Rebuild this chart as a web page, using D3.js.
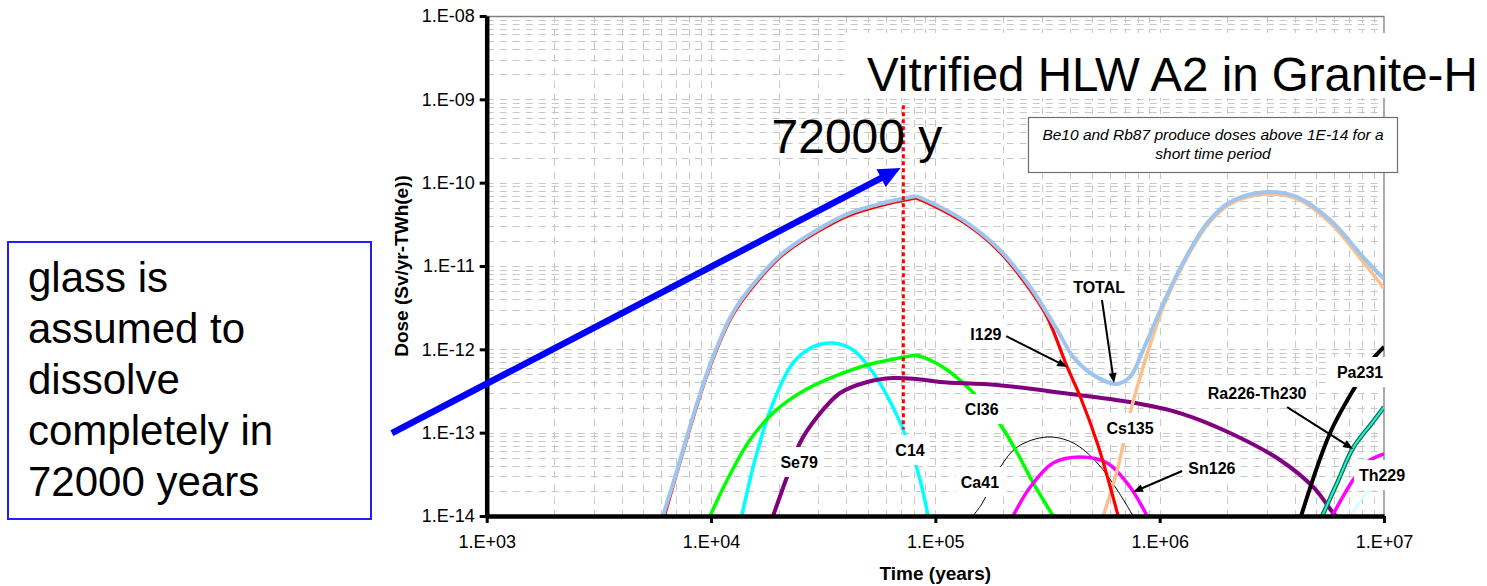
<!DOCTYPE html>
<html>
<head>
<meta charset="utf-8">
<script src="https://cdn.jsdelivr.net/npm/d3@7"></script>
<style>
  html, body { margin: 0; padding: 0; background: #fff; }
  svg { display: block; font-family: "Liberation Sans", Arial, Helvetica, sans-serif; }
</style>
</head>
<body>
<svg id="chart" width="1487" height="586"></svg>
<script>
// ---- axes ----
const timeTicks = [1e3, 1e4, 1e5, 1e6, 1e7];
const timeTickLabels = ["1.E+03", "1.E+04", "1.E+05", "1.E+06", "1.E+07"];
const doseTicks = [1e-14, 1e-13, 1e-12, 1e-11, 1e-10, 1e-9, 1e-8];
const doseTickLabels = ["1.E-14", "1.E-13", "1.E-12", "1.E-11", "1.E-10", "1.E-09", "1.E-08"];

// ---- dose curves: [time (years), dose (Sv/yr-TWh(e))] ----
const totalDose = [[6110,1e-14],[7060,3.56e-14],[8670,2.27e-13],[10200,8.09e-13],[12500,2.73e-12],[16000,6.79e-12],[20900,1.43e-11],[29700,2.70e-11],[41700,4.33e-11],[58500,5.70e-11],[82000,6.92e-11],[94700,5.86e-11],[133000,3.56e-11],[188000,1.69e-11],[265000,5.60e-12],[349000,1.71e-12],[412000,8.09e-13],[490000,5.20e-13],[602000,3.94e-13],[647000,3.84e-13],[738000,4.66e-13],[844000,9.82e-13],[1.04e6,3.60e-12],[1.27e6,1.09e-11],[1.63e6,3.28e-11],[2.06e6,5.86e-11],[3.01e6,7.73e-11],[4.10e6,6.73e-11],[5.76e6,3.56e-11],[8.07e6,1.28e-11],[1e7,7.0e-12]];
const i129Dose = [[6200,1e-14],[7060,3.37e-14],[8670,2.15e-13],[10200,7.66e-13],[12500,2.58e-12],[16000,6.43e-12],[20900,1.36e-11],[29700,2.56e-11],[41700,4.09e-11],[58500,5.40e-11],[82000,6.55e-11],[94700,5.55e-11],[133000,3.37e-11],[188000,1.60e-11],[265000,5.15e-12],[315000,2.44e-12],[387000,6.14e-13],[443000,2.68e-13],[527000,7.52e-14],[602000,2.23e-14],[653000,1e-14]];
const cs135Dose = [[560000,1e-14],[647000,3.56e-14],[738000,1.72e-13],[818000,4.66e-13],[906000,1.13e-12],[1.04e6,3.31e-12],[1.27e6,1.03e-11],[1.63e6,3.10e-11],[2.06e6,5.55e-11],[3.01e6,7.31e-11],[4.10e6,6.37e-11],[5.76e6,3.28e-11],[8.07e6,1.12e-11],[1e7,5.4e-12]];
const cl36Dose = [[9900,1e-14],[11800,2.70e-14],[14900,8.17e-14],[18900,1.72e-13],[24900,2.99e-13],[35000,4.66e-13],[49700,6.49e-13],[82000,8.55e-13],[94700,7.45e-13],[113000,5.65e-13],[148000,2.99e-13],[195000,1.24e-13],[232000,5.70e-14],[273000,2.49e-14],[335000,1e-14]];
const c14Dose = [[13700,1e-14],[16000,5.70e-14],[18900,2.27e-13],[23200,6.86e-13],[28500,1.07e-12],[35000,1.19e-12],[43000,9.82e-13],[52900,5.20e-13],[64700,2.03e-13],[77100,6.73e-14],[85500,2.70e-14],[92900,1e-14]];
const se79Dose = [[18900,1e-14],[21800,2.94e-14],[24900,7.52e-14],[29700,1.54e-13],[37600,2.99e-13],[49700,4.06e-13],[64700,4.53e-13],[82000,4.41e-13],[105000,4.06e-13],[188000,3.73e-13],[372000,2.99e-13],[738000,2.33e-13],[1.23e6,1.72e-13],[2.06e6,9.91e-14],[3.44e6,4.70e-14],[4.83e6,2.23e-14],[5.93e6,1.09e-14],[6.11e6,1e-14]];
const ca41Dose = [[147000,1e-14],[162000,1.43e-14],[195000,3.87e-14],[232000,6.73e-14],[315000,8.87e-14],[412000,7.52e-14],[527000,4.33e-14],[647000,2.05e-14],[761000,1e-14]];
const sn126Dose = [[222000,1e-14],[265000,2.23e-14],[335000,4.33e-14],[443000,5.11e-14],[583000,4.33e-14],[738000,2.23e-14],[879000,1e-14]];
const pa231Dose = [[4.27e6,1e-14],[5.75e6,9.91e-14],[7.43e6,3.53e-13],[8.85e6,7.45e-13],[1e7,1.07e-12]];
const ra226Dose = [[5.30e6,1e-14],[6.18e6,2.49e-14],[7.28e6,6.55e-14],[8.85e6,1.31e-13],[1e7,2.03e-13]];
const th230Dose = [[5.30e6,1e-14],[6.18e6,2.49e-14],[7.28e6,6.55e-14],[8.85e6,1.31e-13],[1e7,2.03e-13]];
const th229Dose = [[5.87e6,1e-14],[7.28e6,2.70e-14],[8.41e6,4.45e-14],[1e7,5.55e-14]];
const u233Dose = [[7.06e6,1e-14],[8.49e6,2.05e-14]];

// curves that break sharply at the end of glass dissolution
const peakYear = 82000;
const cornerSeries = ["TOTAL", "I129", "Cl36"];

// glass lifetime marker
const glassLifetime = 72000;

// drawing order (back to front) with line styles
const series = [
  { name: "Ca41",  values: ca41Dose,  color: "#000000", width: 1 },
  { name: "C14",   values: c14Dose,   color: "#00ffff", width: 3.5 },
  { name: "Cl36",  values: cl36Dose,  color: "#00ff00", width: 3.5 },
  { name: "Sn126", values: sn126Dose, color: "#ff00ff", width: 3.5 },
  { name: "Se79",  values: se79Dose,  color: "#800080", width: 4 },
  { name: "Pa231", values: pa231Dose, color: "#000000", width: 4 },
  { name: "Ra226", values: ra226Dose, color: "#007a3d", width: 4.5 },
  { name: "Th230", values: th230Dose, color: "#33e6e6", width: 2 },
  { name: "Th229", values: th229Dose, color: "#ff00ff", width: 3.5 },
  { name: "U233",  values: u233Dose,  color: "#ccffff", width: 2 },
  { name: "Cs135", values: cs135Dose, color: "#fbc08e", width: 3.5 },
  { name: "I129",  values: i129Dose,  color: "#ff0000", width: 3.2 },
  { name: "TOTAL", values: totalDose, color: "#9ec5ee", width: 4 }
];

// curve labels, placed in data coordinates
const curveLabels = [
  { text: "TOTAL",       t: 537000, dose: 5.6e-12 },
  { text: "I129",        t: 168000, dose: 1.53e-12 },
  { text: "Cl36",        t: 161000, dose: 1.92e-13 },
  { text: "Cs135",       t: 738000, dose: 1.14e-13 },
  { text: "Se79",        t: 24700,  dose: 4.45e-14 },
  { text: "C14",         t: 77100,  dose: 6.19e-14 },
  { text: "Ca41",        t: 158000, dose: 2.56e-14 },
  { text: "Sn126",       t: 1.71e6, dose: 3.77e-14 },
  { text: "Pa231",       t: 7.82e6, dose: 5.35e-13 },
  { text: "Ra226-Th230", t: 2.72e6, dose: 2.99e-13 },
  { text: "Th229",       t: 9.8e6,  dose: 3.10e-14 }
];
// leader arrows: from [t, dose] to [t, dose]
const leaders = [
  [[553000, 3.91e-12], [626000, 3.94e-13]],
  [[207000, 1.44e-12], [387000, 6.14e-13]],
  [[1.26e6, 3.47e-14], [761000, 1.94e-14]],
  [[3.70e6, 2.03e-13], [7.28e6, 6.37e-14]]
];

// ---- layout ----
const W = 1487, H = 586;
const plot = { left: 486.7, right: 1384, top: 16, bottom: 516 };

const x = d3.scaleLog().domain([1e3, 1e7]).range([plot.left, plot.right]);
const y = d3.scaleLog().domain([1e-14, 1e-8]).range([plot.bottom, plot.top]);

const svg = d3.select("#chart");

svg.append("defs").append("clipPath").attr("id", "plotClip")
  .append("rect")
  .attr("x", plot.left).attr("y", plot.top - 2)
  .attr("width", plot.right - plot.left).attr("height", plot.bottom - plot.top + 4);

// dashed minor/major grid
const grid = svg.append("g").attr("stroke", "#c8c8c8").attr("stroke-width", 1)
  .attr("stroke-dasharray", "7,6");
grid.selectAll("line.h")
  .data(y.ticks().filter(v => v > 1.0001e-14 && v < 0.9999e-8))
  .join("line").attr("class", "h")
  .attr("x1", plot.left).attr("x2", plot.right)
  .attr("y1", d => Math.round(y(d)) + 0.5).attr("y2", d => Math.round(y(d)) + 0.5);
grid.selectAll("line.v")
  .data(x.ticks().filter(v => v > 1001 && v < 0.9999e7))
  .join("line").attr("class", "v")
  .attr("y1", plot.top).attr("y2", plot.bottom)
  .attr("x1", d => Math.round(x(d)) + 0.5).attr("x2", d => Math.round(x(d)) + 0.5);

// plot frame (top and right)
svg.append("path")
  .attr("d", `M${plot.left},${plot.top + 0.5}H${plot.right}V${plot.bottom}`)
  .attr("fill", "none").attr("stroke", "#7f7f7f").attr("stroke-width", 1.3);

// ---- curves ----
const line = d3.line().x(d => x(d[0])).y(d => y(d[1])).curve(d3.curveCatmullRom.alpha(0.5));
const curves = svg.append("g").attr("clip-path", "url(#plotClip)");
series.forEach(s => {
  let parts = [s.values];
  if (cornerSeries.includes(s.name)) {
    const k = s.values.findIndex(d => d[0] === peakYear);
    parts = [s.values.slice(0, k + 1), s.values.slice(k)];
  }
  parts.forEach(p => {
    curves.append("path").datum(p)
      .attr("d", line)
      .attr("fill", "none")
      .attr("stroke", s.color)
      .attr("stroke-width", s.width)
      .attr("stroke-linejoin", "round")
      .attr("stroke-linecap", "butt");
  });
});

// glass lifetime marker (red dotted)
svg.append("line")
  .attr("x1", x(glassLifetime)).attr("x2", x(glassLifetime))
  .attr("y1", y(8.5e-10)).attr("y2", y(1.1e-13))
  .attr("stroke", "#ff0000").attr("stroke-width", 3)
  .attr("stroke-dasharray", "4,3");

// ---- axes ----
const yAxis = svg.append("g")
  .attr("transform", `translate(${plot.left},0)`)
  .call(d3.axisLeft(y).tickValues(doseTicks)
    .tickFormat((d, i) => doseTickLabels[i])
    .tickSize(7).tickSizeOuter(0).tickPadding(5));
const xAxis = svg.append("g")
  .attr("transform", `translate(0,${plot.bottom})`)
  .call(d3.axisBottom(x).tickValues(timeTicks)
    .tickFormat((d, i) => timeTickLabels[i])
    .tickSize(7).tickSizeOuter(0).tickPadding(12));
[yAxis, xAxis].forEach(a => {
  a.select(".domain").attr("stroke", "#000").attr("stroke-width", 4.5);
  a.selectAll(".tick line").attr("stroke", "#000").attr("stroke-width", 3);
  a.selectAll(".tick text").attr("font-size", 18).attr("fill", "#000")
    .attr("font-family", '"Liberation Sans", Arial, sans-serif');
});

svg.append("text")
  .attr("x", x(1e5)).attr("y", 580)
  .attr("text-anchor", "middle").attr("font-size", 19).attr("font-weight", "bold")
  .text("Time (years)");
svg.append("text")
  .attr("transform", "translate(408,266) rotate(-90)")
  .attr("text-anchor", "middle").attr("font-size", 19).attr("font-weight", "bold")
  .text("Dose (Sv/yr-TWh(e))");

// ---- arrows ----
function arrow(g, x1, y1, x2, y2, o) {
  const dx = x2 - x1, dy = y2 - y1, len = Math.hypot(dx, dy);
  const ux = dx / len, uy = dy / len;
  const bx = x2 - ux * o.head, by = y2 - uy * o.head;
  g.append("line").attr("x1", x1).attr("y1", y1).attr("x2", bx + ux * 1).attr("y2", by + uy * 1)
    .attr("stroke", o.color).attr("stroke-width", o.width);
  g.append("path")
    .attr("d", `M${x2},${y2}L${bx - uy * o.half},${by + ux * o.half}L${bx + uy * o.half},${by - ux * o.half}Z`)
    .attr("fill", o.color);
}

// ---- curve labels ----
const labels = svg.append("g");
curveLabels.forEach(l => {
  const g = labels.append("g");
  const t = g.append("text")
    .attr("x", x(l.t)).attr("y", y(l.dose))
    .attr("dy", "0.36em")
    .attr("text-anchor", "middle")
    .attr("font-size", 16).attr("font-weight", "bold")
    .text(l.text);
  const b = t.node().getBBox();
  g.insert("rect", "text")
    .attr("x", b.x - 5).attr("y", y(l.dose) - 15)
    .attr("width", b.width + 10).attr("height", 30)
    .attr("fill", "#fff");
});
const leadG = svg.append("g");
leaders.forEach(([a, b]) => {
  arrow(leadG, x(a[0]), y(a[1]), x(b[0]), y(b[1]), { color: "#000", width: 2, head: 10, half: 4 });
});

// ---- title and notes ----
svg.append("rect").attr("x", 845).attr("y", 33).attr("width", W - 845).attr("height", 65).attr("fill", "#fff");
svg.append("text").attr("x", 867).attr("y", 91)
  .attr("font-size", 47.5).text("Vitrified HLW A2 in Granite-H");

svg.append("text").attr("x", x(glassLifetime) + 39).attr("y", 153)
  .attr("text-anchor", "end").attr("font-size", 48).text("72000 y");

const note = svg.append("g");
note.append("rect").attr("x", 1028.5).attr("y", 117.5).attr("width", 369).attr("height", 55)
  .attr("fill", "#fff").attr("stroke", "#6f6f6f").attr("stroke-width", 1.2);
["Be10 and Rb87 produce doses above 1E-14 for a", "short time period"].forEach((s, i) => {
  note.append("text").attr("x", 1213).attr("y", 140 + i * 19)
    .attr("text-anchor", "middle").attr("font-size", 15.5).attr("font-style", "italic")
    .text(s);
});

// left explanation box
const box = svg.append("g");
box.append("rect").attr("x", 8).attr("y", 242).attr("width", 363).attr("height", 277)
  .attr("fill", "#fff").attr("stroke", "#2020ff").attr("stroke-width", 2);
["glass is", "assumed to", "dissolve", "completely in", "72000 years"].forEach((s, i) => {
  box.append("text").attr("x", 28).attr("y", 292 + i * 51)
    .attr("font-size", 42).text(s);
});

// blue pointer from the box to the glass lifetime
arrow(svg.append("g"), x(378), y(9.9e-14), x(70000), y(1.5e-10),
  { color: "#0000ff", width: 6.5, head: 22, half: 10 });
</script>
</body>
</html>
